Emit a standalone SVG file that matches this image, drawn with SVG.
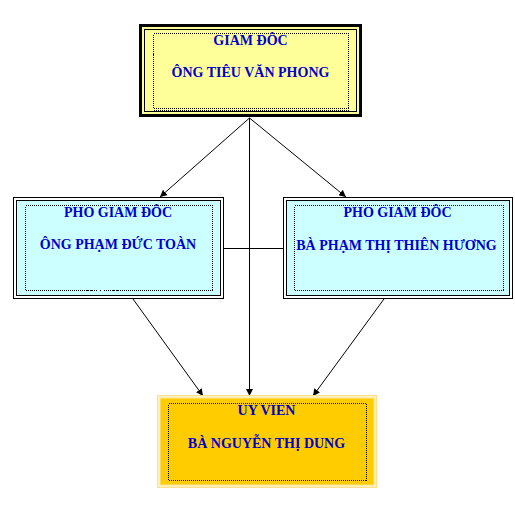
<svg xmlns="http://www.w3.org/2000/svg" width="515" height="527" viewBox="0 0 515 527">
<style>
.t{font-family:"Liberation Serif","Times New Roman",serif;font-size:14px;font-weight:bold;fill:#0000CC;text-anchor:middle}
.dot{fill:none;stroke:#000;stroke-width:1;stroke-dasharray:1 1;shape-rendering:crispEdges}
.ln{fill:none;stroke:#000;stroke-width:1}
.c{fill:none;stroke:#000;stroke-width:1;marker-end:url(#ah)}
</style>
<defs>
<marker id="ah" viewBox="0 0 10 10" refX="10" refY="5" markerWidth="7" markerHeight="7" markerUnits="userSpaceOnUse" orient="auto">
<path d="M0,0 L10,5 L0,10 z" fill="#000"/>
</marker>
</defs>
<rect width="515" height="527" fill="#fff"/>
<g id="connectors">
<line class="ln" x1="224" y1="248.5" x2="283" y2="248.5"/>
<line class="c" x1="249.5" y1="118" x2="160" y2="197"/>
<line class="c" x1="249.5" y1="118" x2="346" y2="197"/>
<line class="c" x1="249.5" y1="118" x2="249.5" y2="396"/>
<line class="c" x1="133" y1="299" x2="203" y2="396"/>
<line class="c" x1="384" y1="299" x2="313" y2="396"/>
</g>
<g id="giam-doc">
<rect x="140.5" y="25.5" width="220" height="90" fill="#FFFF99" stroke="#000" stroke-width="3"/>
<rect x="144.5" y="29.5" width="212" height="82" fill="none" stroke="#000" stroke-width="1"/>
<rect class="dot" x="153.5" y="33.5" width="195" height="75"/>
<line class="dot" x1="153.5" y1="110.5" x2="348.5" y2="110.5"/>
<text class="t" x="250.5" y="45">GIAM ĐÔC</text>
<text class="t" x="250.5" y="77">ÔNG TIÊU VĂN PHONG</text>
</g>
<g id="pho-giam-doc-1">
<rect x="13.5" y="197.5" width="210" height="101" fill="#fff" stroke="#000" stroke-width="1"/>
<rect x="16.5" y="200.5" width="204" height="95" fill="#CCFFFF" stroke="#000" stroke-width="1"/>
<rect class="dot" x="25.5" y="205.5" width="187" height="85"/>
<text class="t" x="118" y="217">PHO GIAM ĐÔC</text>
<text class="t" x="118" y="249">ÔNG PHẠM ĐỨC TOÀN</text>
</g>
<g id="pho-giam-doc-2">
<rect x="283.5" y="197.5" width="229" height="101" fill="#fff" stroke="#000" stroke-width="1"/>
<rect x="286.5" y="200.5" width="223" height="95" fill="#CCFFFF" stroke="#000" stroke-width="1"/>
<rect class="dot" x="294.5" y="205.5" width="209" height="85"/>
<text class="t" x="397.5" y="217">PHO GIAM ĐÔC</text>
<text class="t" x="396.5" y="250">BÀ PHẠM THỊ THIÊN HƯƠNG</text>
</g>
<g id="uy-vien">
<rect x="157.5" y="395.5" width="219" height="92" fill="#FFF2C0" stroke="#FFE08A" stroke-width="1"/>
<rect x="160" y="398" width="214" height="87" fill="#FFCC00" stroke="#FFE699" stroke-width="1"/>
<rect class="dot" x="168.5" y="403.5" width="198" height="77"/>
<text class="t" x="266.5" y="415">UY VIEN</text>
<text class="t" x="266.5" y="448">BÀ NGUYỄN THỊ DUNG</text>
</g>
</svg>
